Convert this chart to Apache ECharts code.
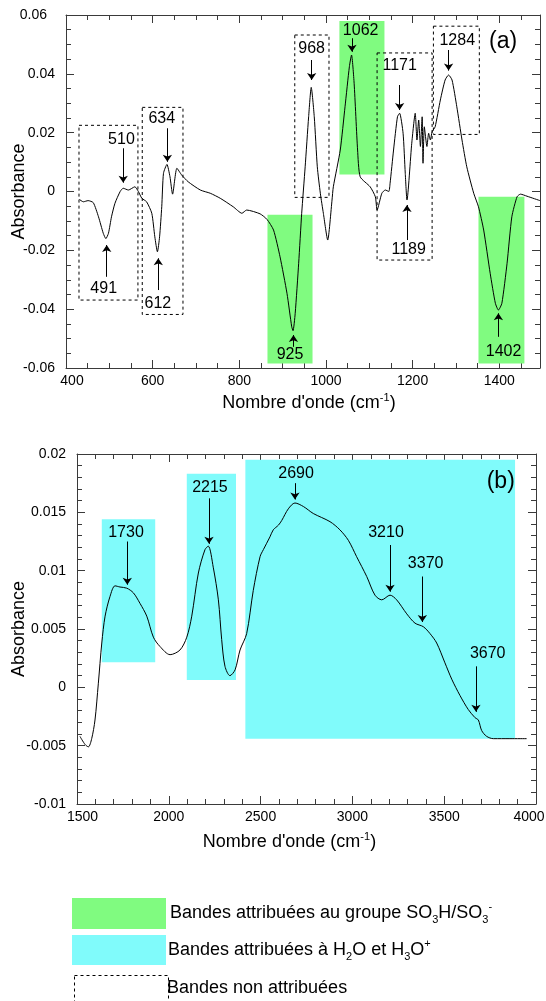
<!DOCTYPE html>
<html>
<head>
<meta charset="utf-8">
<script src="https://cdn.jsdelivr.net/npm/echarts@6/dist/echarts.min.js"></script>
<style>
html,body{margin:0;padding:0;background:#fff;}
#c{width:546px;height:1001px;}
</style>
</head>
<body>
<div id="c"></div>
<script>
// ---------- Panel (a) spectrum ----------
const waveA = [431,440,451,463,475,486,492,498,505,513,525,532,544,559,567,575,586,598,605,611,616,621,625,633,640,646,656,667,682,710,733,756,786,806,817,848,864,879,894,910,921,924,929,937,944,952,960,966,973,980,987,994,1004,1014,1017,1033,1044,1054,1059,1065,1073,1079,1102,1114,1118,1129,1137,1145,1148,1156,1165,1170,1178,1183,1187,1198,1206,1210,1214,1218,1222,1224,1227,1233,1237,1241,1245,1252,1264,1275,1283,1291,1302,1314,1325,1341,1352,1364,1379,1391,1398,1406,1418,1429,1441,1449,1464,1494];
const absA = [-0.0027,-0.0035,-0.0031,-0.0038,-0.0086,-0.0142,-0.0160,-0.0142,-0.0086,-0.0040,0.0000,0.0011,0.0005,0.0016,0.0000,-0.0023,-0.0035,-0.0074,-0.0154,-0.0205,-0.0154,-0.0052,0.0062,0.0092,0.0050,-0.0009,0.0079,0.0056,0.0033,0.0005,-0.0006,-0.0023,-0.0052,-0.0074,-0.0063,-0.0076,-0.0095,-0.0131,-0.0222,-0.0346,-0.0460,-0.0473,-0.0414,-0.0244,-0.0074,0.0084,0.0254,0.0354,0.0254,0.0084,-0.0006,-0.0074,-0.0165,-0.0029,0.0016,0.0141,0.0288,0.0424,0.0464,0.0368,0.0141,0.0050,0.0016,-0.0018,-0.0063,-0.0006,0.0005,0.0000,0.0028,0.0141,0.0254,0.0266,0.0198,0.0062,-0.0029,0.0164,0.0266,0.0175,0.0243,0.0153,0.0254,0.0096,0.0220,0.0153,0.0198,0.0175,0.0203,0.0220,0.0311,0.0379,0.0396,0.0379,0.0288,0.0175,0.0084,-0.0006,-0.0052,-0.0131,-0.0278,-0.0380,-0.0403,-0.0380,-0.0244,-0.0086,-0.0018,-0.0009,-0.0016,-0.0031];

// ---------- Panel (b) spectrum ----------
const waveB = [1516,1544,1562,1580,1598,1616,1635,1653,1680,1707,1734,1771,1807,1843,1880,1916,1952,2007,2061,2098,2125,2161,2197,2215,2242,2270,2288,2306,2333,2361,2388,2424,2460,2497,2515,2551,2569,2597,2615,2651,2687,2733,2787,2878,2932,2978,3023,3078,3123,3160,3205,3241,3296,3341,3386,3423,3459,3504,3541,3586,3631,3668,3686,3704,3731,3768,3858,3949];
const absB = [-0.0042,-0.0049,-0.0051,-0.0044,-0.0028,0.0003,0.0038,0.0061,0.0078,0.0087,0.0086,0.0085,0.0081,0.0072,0.0061,0.0043,0.0035,0.0028,0.0032,0.0043,0.0061,0.0098,0.0118,0.0121,0.0103,0.0075,0.0041,0.0018,0.0010,0.0015,0.0032,0.0046,0.0083,0.0112,0.0118,0.0129,0.0135,0.0139,0.0143,0.0153,0.0158,0.0155,0.0149,0.0142,0.0135,0.0126,0.0112,0.0095,0.0079,0.0075,0.0079,0.0075,0.0063,0.0055,0.0052,0.0046,0.0038,0.0021,0.0007,-0.0007,-0.0019,-0.0026,-0.0028,-0.0037,-0.0042,-0.0044,-0.0044,-0.0044];

// ---------- band boxes [x1, y1, x2, y2] ----------
const greenBandsA = [[865,-0.0079,969,-0.0585],[1031,0.0580,1135,0.0058],[1352,-0.0018,1458,-0.0585]];
const dashedBandsA = [[430,0.0225,566,-0.0369],[576,0.0286,670,-0.0418],[928,0.0532,1007,-0.0020],[1118,0.0471,1245,-0.0233],[1248,0.0562,1354,0.0194]];
const cyanBandsB = [[1635,0.0144,1926,0.00215],[2098,0.0183,2366,0.00063],[2417,0.0195,3886,-0.0044]];

// ---------- arrows [x, yTail, yHead] ----------
const arrowsA = [[532,0.0147,0.0030],[634,0.0215,0.0101],[967,0.0447,0.0379],[1060,0.0521,0.0475],[1170,0.0362,0.0277],[1283,0.0481,0.0411],[494,-0.0290,-0.0182],[613,-0.0335,-0.0227],[1187,-0.0165,-0.0046],[925,-0.0528,-0.0488],[1398,-0.0494,-0.0414]];
const arrowsB = [[1774,0.0125,0.0088],[2219,0.0162,0.0123],[2687,0.0175,0.0161],[3205,0.0122,0.0082],[3381,0.0095,0.0056],[3673,0.0018,-0.0021]];

// ---------- peak labels [x, y, text] ----------
const labelsA = [[528,0.0175,'510'],[621,0.0249,'634'],[487,-0.0329,'491'],[612,-0.0380,'612'],[967,0.0487,'968'],[1080,0.0547,'1062'],[1170,0.0427,'1171'],[1303,0.0513,'1284'],[1191,-0.0199,'1189'],[917,-0.0556,'925'],[1410,-0.0545,'1402']];
const labelsB = [[1767,0.0133,'1730'],[2224,0.0171,'2215'],[2693,0.0183,'2690'],[3183,0.0133,'3210'],[3399,0.0106,'3370'],[3737,0.0029,'3670']];
const panelTagA = [1409,0.0508,'(a)'];
const panelTagB = [3808,0.0176,'(b)'];

// ---------- axes ----------
const xTicksA = {min:400, max:1494, interval:200};
const yTicksA = {min:-0.06, max:0.06, interval:0.02};
const xTicksB = {min:1500, max:4000, interval:500};
const yTicksB = {min:-0.01, max:0.02, interval:0.005};
const xNameText = "Nombre d'onde (cm{sup|-1})";
const yNameText = 'Absorbance';
const legendTexts = [
  'Bandes attribuées au groupe SO{sub|3}H/SO{sub|3}{sup|-}',
  'Bandes attribuées à H{sub|2}O et H{sub|3}O{sup|+}',
  'Bandes non attribuées'
];

const FONT = 'Liberation Sans, Arial, Helvetica, sans-serif';
const AX = '#3a3a3a';
const GREEN = '#80fb80';
const CYAN = '#80fbfb';

function zip(a,b){ return a.map((v,i)=>[v,b[i]]); }

function xAxisPair(grid, t, labelFmt, rich, nameOpt){
  const common = {
    gridIndex: grid, type:'value', min:t.min, max:t.max, interval:t.interval,
    splitLine:{show:false},
    axisLine:{show:true, onZero:false, lineStyle:{color:AX, width:1}},
    axisTick:{show:true, inside:true, length:8, lineStyle:{color:AX}},
    minorTick:{show:true, splitNumber: grid===0?4:5, length:5, lineStyle:{color:AX}},
    minorSplitLine:{show:false}
  };
  const bottom = Object.assign({}, common, {
    position:'bottom',
    axisLabel:{show:true, margin:6, fontSize:14, fontFamily:FONT, color:'#000', formatter:labelFmt, rich:rich},
    name: xNameText, nameLocation:'middle', nameGap: nameOpt.gap,
    nameTextStyle:{fontSize:18, fontFamily:FONT, color:'#000', lineHeight:22, padding:nameOpt.pad,
      rich:{sup:{fontSize:11, lineHeight:11, verticalAlign:'top', fontFamily:FONT, color:'#000'}}}
  });
  const top = Object.assign({}, common, {position:'top', axisLabel:{show:false}});
  return [bottom, top];
}
function yAxisPair(grid, t, labelFmt, rich, gap){
  const common = {
    gridIndex: grid, type:'value', min:t.min, max:t.max, interval:t.interval,
    splitLine:{show:false},
    axisLine:{show:true, onZero:false, lineStyle:{color:AX, width:1}},
    axisTick:{show:true, inside:true, length:8, lineStyle:{color:AX}},
    minorTick:{show:true, splitNumber: grid===0?4:5, length:5, lineStyle:{color:AX}},
    minorSplitLine:{show:false}
  };
  const left = Object.assign({}, common, {
    position:'left',
    axisLabel:{show:true, margin:11, fontSize:14, fontFamily:FONT, color:'#000', formatter:labelFmt, rich:rich},
    name: yNameText, nameLocation:'middle', nameGap: gap, nameRotate:90, nameMoveOverlap:false,
    nameTextStyle:{fontSize:18, fontFamily:FONT, color:'#000'}
  });
  const right = Object.assign({}, common, {position:'right', axisLabel:{show:false}});
  return [left, right];
}

const xa = xAxisPair(0, xTicksA, v => {
  if (Math.abs(v-400)<1e-9) return '{l|400}';
  return (Math.abs(v % 200) < 1e-9) ? String(v) : '';
}, {l:{padding:[0,0,0,12], fontSize:14, fontFamily:FONT, color:'#000'}}, {gap:24, pad:[0,0,0,12]});
const xb = xAxisPair(1, xTicksB, v => {
  if (v===1500) return '{l|1500}';
  if (v===4000) return '{r|4000}';
  return String(v);
}, {l:{padding:[0,0,0,11], fontSize:14, fontFamily:FONT, color:'#000'}, r:{padding:[0,14,0,0], fontSize:14, fontFamily:FONT, color:'#000'}}, {gap:27, pad:[0,34,0,0]});
const ya = yAxisPair(0, yTicksA, v => {
  const s = String(+v.toFixed(4));
  if (Math.abs(v-0.06)<1e-9) return '{t|' + s + '}';
  return s;
}, {t:{padding:[0,8,0,0], fontSize:14, fontFamily:FONT, color:'#000'}}, 38);
const yb = yAxisPair(1, yTicksB, v => String(+v.toFixed(4)), {}, 49);

function areaData(list, style){
  return list.map(r => [{coord:[r[0],r[1]], itemStyle:style}, {coord:[r[2],r[3]]}]);
}
function arrowData(list){
  return list.map(a => [{coord:[a[0],a[1]]}, {coord:[a[0],a[2]]}]);
}
function labelData(list){
  return list.map(l => ({value:[l[0],l[1],l[2]]}));
}
const arrowMark = list => ({
  silent:true, symbol:['none','arrow'], symbolSize:7,
  lineStyle:{color:'#000', width:1, type:'solid'},
  label:{show:false}, emphasis:{disabled:true},
  data: arrowData(list)
});
const labelSeries = (xi, yi, list, tag) => ({
  type:'scatter', xAxisIndex:xi, yAxisIndex:yi, symbolSize:0, silent:true, z:6,
  itemStyle:{color:'#000', opacity:1},
  label:{show:true, position:[0,0], align:'center', verticalAlign:'middle',
    fontSize:16, fontFamily:FONT, color:'#000', opacity:1, formatter:p=>p.value[2]},
  data: labelData(list).concat([{value:tag, label:{fontSize:23}}])
});

const dashedStyle = {color:'rgba(0,0,0,0)', borderColor:'#000', borderWidth:1, borderType:[3,3]};

const option = {
  animation:false,
  backgroundColor:'#fff',
  textStyle:{fontFamily:FONT},
  grid:[
    {left:66, top:15, width:474, height:353, outerBoundsMode:'none', containLabel:false},
    {left:77, top:454, width:459, height:350, outerBoundsMode:'none', containLabel:false}
  ],
  xAxis:[xa[0], xa[1], xb[0], xb[1]],
  yAxis:[ya[0], ya[1], yb[0], yb[1]],
  series:[
    {
      type:'line', xAxisIndex:0, yAxisIndex:0, z:3,
      data: zip(waveA, absA), showSymbol:false, symbol:'none', smooth:0.2,
      lineStyle:{color:'#000', width:1},
      markArea:{silent:true, z:1, label:{show:false},
        data: areaData(greenBandsA, {color:GREEN}).concat(areaData(dashedBandsA, dashedStyle))},
      markLine: arrowMark(arrowsA)
    },
    {
      type:'line', xAxisIndex:2, yAxisIndex:2, z:3,
      data: zip(waveB, absB), showSymbol:false, symbol:'none', smooth:0.3,
      lineStyle:{color:'#000', width:1},
      markArea:{silent:true, z:1, label:{show:false}, data: areaData(cyanBandsB, {color:CYAN})},
      markLine: arrowMark(arrowsB)
    },
    labelSeries(0, 0, labelsA, panelTagA),
    labelSeries(2, 2, labelsB, panelTagB)
  ],
  graphic:[
    {type:'rect', left:72, top:898, shape:{width:94, height:31}, style:{fill:GREEN}},
    {type:'rect', left:72, top:935, shape:{width:94, height:30}, style:{fill:CYAN}},
    {type:'rect', left:72, top:973, shape:{width:94, height:40}, style:{fill:'none', stroke:'#000', lineWidth:1, lineDash:[3,3]}},
    {type:'text', x:170, y:913, style:{text:legendTexts[0], fontSize:18, fontFamily:FONT, fill:'#000', verticalAlign:'middle', lineHeight:24,
      rich:{sub:{fontSize:11, lineHeight:11, verticalAlign:'bottom', fontFamily:FONT}, sup:{fontSize:11, lineHeight:11, verticalAlign:'top', fontFamily:FONT}}}},
    {type:'text', x:168, y:950, style:{text:legendTexts[1], fontSize:18, fontFamily:FONT, fill:'#000', verticalAlign:'middle', lineHeight:24,
      rich:{sub:{fontSize:11, lineHeight:11, verticalAlign:'bottom', fontFamily:FONT}, sup:{fontSize:11, lineHeight:11, verticalAlign:'top', fontFamily:FONT}}}},
    {type:'text', x:167, y:988, style:{text:legendTexts[2], fontSize:18, fontFamily:FONT, fill:'#000', verticalAlign:'middle'}}
  ]
};

const chart = echarts.init(document.getElementById('c'), null, {renderer:'canvas'});
chart.setOption(option);
</script>
</body>
</html>
